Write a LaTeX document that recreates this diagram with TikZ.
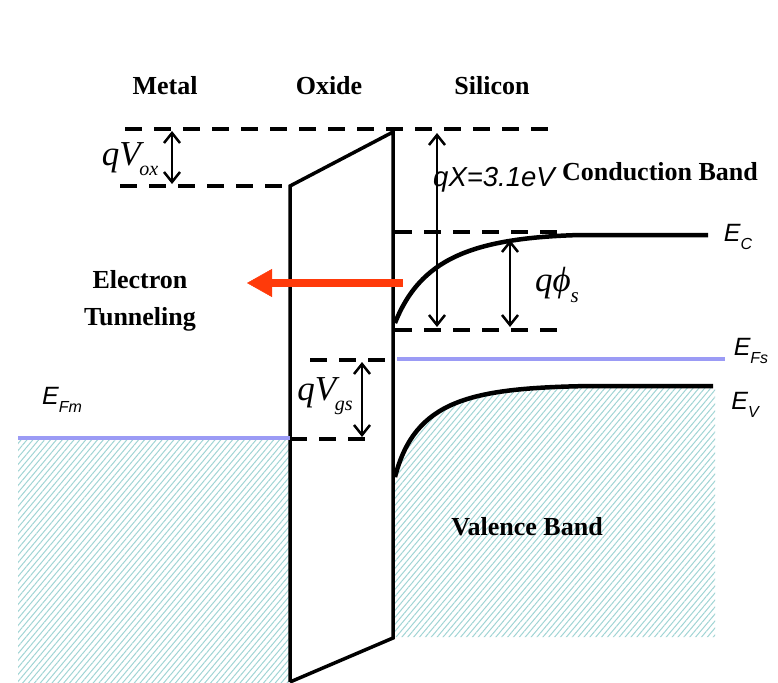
\RequirePackage{fix-cm}
\documentclass[tikz,border=0pt]{standalone}
\usepackage{fontspec}
\setmainfont{Liberation Serif}
\newfontfamily\arialfont{Liberation Sans}
\usetikzlibrary{arrows.meta,patterns.meta}
\definecolor{bdInk}{HTML}{000000}
\definecolor{bdFermi}{HTML}{9B9BF5}
\definecolor{bdHatch}{HTML}{A0D4D4}
\definecolor{bdRed}{HTML}{FF3A0A}
\newcommand{\bdsub}[2]{\raisebox{-0.3em}{\fontsize{#1}{#1}\selectfont #2}}
\tikzset{
  wall/.style={draw=bdInk, line width=3.5pt, line join=miter},
  band/.style={draw=bdInk, line width=4.5pt},
  lvl/.style={draw=bdInk, line width=3.8pt, dash pattern=on 17pt off 12pt},
  fermi/.style={draw=bdFermi, line width=4pt},
  gap/.style={{Straight Barb[length=10pt,width=16pt,line width=2.5pt]}-{Straight Barb[length=10pt,width=16pt,line width=2.5pt]}, line width=2.5pt, draw=bdInk},
  tunnel/.style={-{Triangle[length=25pt,width=28pt,line width=0.5pt]}, line width=8pt, draw=bdRed, fill=bdRed},
  hatch/.style={pattern={Lines[angle=50,distance=4.5pt,line width=1pt]}, pattern color=bdHatch},
  ttl/.style={font=\fontsize{26}{37}\selectfont\bfseries, inner sep=0pt},
  sym/.style={font=\fontsize{25}{28}\selectfont\arialfont\itshape, inner sep=0pt},
  tms/.style={font=\fontsize{35}{36}\selectfont\itshape, inner sep=0pt},
}

\begin{document}
\begin{tikzpicture}[x=1pt,y=-1pt]
    \useasboundingbox (0,0) rectangle (778,682);
    % filled states in metal and silicon
    \fill[hatch] (18,438) rectangle (290,682);
    \fill[hatch] (395,477) .. controls (415,400) and (470,388) .. (590,386) -- (715,386) -- (715,637) -- (395,637) -- cycle;
    % reference levels
    \draw[lvl] (125,129) -- (557,129);
    \draw[lvl] (120,186) -- (290,186);
    \draw[lvl] (395,232) -- (562,232);
    \draw[lvl] (395,330) -- (563,330);
    \draw[lvl] (310,360) -- (387,360);
    \draw[lvl] (290,439) -- (372,439);
    % oxide barrier
    \draw[wall] (290,682) -- (290,186) -- (393,132) -- (393,638) -- (290,682);
    % fermi levels
    \draw[fermi] (18,438) -- (290,438);
    \draw[fermi] (397,359) -- (725,359);
    % band edges in silicon
    \draw[band] (395,323) .. controls (420,260) and (470,238) .. (580,235) -- (708,235);
    \draw[band] (395,477) .. controls (415,400) and (470,388) .. (590,386) -- (713,386);

    \node[ttl] (metal) at (165,86) {Metal};
    \node[ttl] (oxide) at (329,86) {Oxide};
    \node[ttl] (silicon) at (492,86) {Silicon};
    \node[ttl] (cband) at (660,172) {Conduction Band};
    \node[ttl] (vband) at (527,527) {Valence Band};
    \node[ttl, align=center] (tunlbl) at (140,301) {Electron\\Tunneling};

    \node[tms] (vox) at (130,159) {qV\kern-0.04em\bdsub{20}{ox}};
    \node[tms] (vgs) at (325,396) {qV\kern-0.04em\bdsub{20}{gs}};
    \node[tms] (phis) at (557,285) {qϕ\bdsub{21}{s}};
    \node[sym, font=\fontsize{27.5}{30}\selectfont\arialfont\itshape] (chi) at (494,180) {qX=3.1eV};
    \node[sym] (ec) at (738,237) {E\bdsub{16}{C}};
    \node[sym] (efs) at (751,351) {E\bdsub{16}{Fs}};
    \node[sym] (ev) at (745,405) {E\bdsub{16}{V}};
    \node[sym] (efm) at (62,400) {E\bdsub{16}{Fm}};

    \coordinate (voxT) at (172,131);
    \coordinate (voxB) at (172,184);
    \coordinate (chiT) at (437,133);
    \coordinate (chiB) at (437,327);
    \coordinate (phiT) at (510,240);
    \coordinate (phiB) at (510,327);
    \coordinate (vgsT) at (362,362);
    \coordinate (vgsB) at (362,437);
    \coordinate (tunA) at (403,283);
    \coordinate (tunB) at (247,283);
    \draw[gap] (voxT) -- (voxB);
    \draw[gap] (chiT) -- (chiB);
    \draw[gap] (phiT) -- (phiB);
    \draw[gap] (vgsT) -- (vgsB);
    \draw[tunnel] (tunA) -- (tunB);
\end{tikzpicture}
\end{document}
